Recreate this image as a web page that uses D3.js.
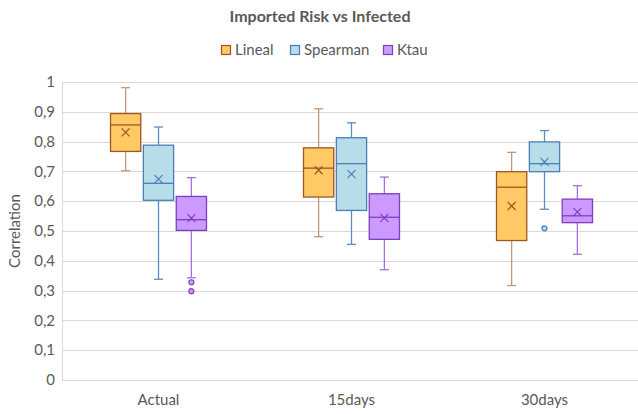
<!DOCTYPE html>
<html>
<head>
<meta charset="utf-8">
<script src="https://cdn.jsdelivr.net/npm/d3@7"></script>
<style>
  body { margin: 0; background: #fff; }
  svg { display: block; font-family: Lato, "Open Sans", sans-serif; }
</style>
</head>
<body>
<svg id="chart" width="638" height="414"></svg>
<script>
// categories and series
const categories = ["Actual", "15days", "30days"];
const series_names = ["Lineal", "Spearman", "Ktau"];
const y_ticks = [0, 0.1, 0.2, 0.3, 0.4, 0.5, 0.6, 0.7, 0.8, 0.9, 1];

// Lineal
const lineal_low = [0.702, 0.481, 0.317];
const lineal_q1 = [0.767, 0.614, 0.468];
const lineal_median = [0.856, 0.711, 0.647];
const lineal_q3 = [0.894, 0.779, 0.699];
const lineal_high = [0.981, 0.910, 0.764];
const lineal_mean = [0.831, 0.704, 0.584];
const lineal_outliers = [[], [], []];

// Spearman
const spearman_low = [0.338, 0.455, 0.573];
const spearman_q1 = [0.603, 0.569, 0.699];
const spearman_median = [0.660, 0.726, 0.726];
const spearman_q3 = [0.788, 0.813, 0.799];
const spearman_high = [0.849, 0.863, 0.837];
const spearman_mean = [0.674, 0.691, 0.732];
const spearman_outliers = [[], [], [0.509]];

// Ktau
const ktau_low = [0.343, 0.370, 0.422];
const ktau_q1 = [0.502, 0.472, 0.528];
const ktau_median = [0.538, 0.546, 0.551];
const ktau_q3 = [0.616, 0.625, 0.607];
const ktau_high = [0.679, 0.681, 0.652];
const ktau_mean = [0.543, 0.544, 0.564];
const ktau_outliers = [[0.328, 0.298], [], []];

const styles = {
    Lineal:   { fill: "#FFC966", stroke: "#A0561E", whisker: "#C39874" },
    Spearman: { fill: "#B6DDE8", stroke: "#4A7EBB", whisker: "#5B8CC4" },
    Ktau:     { fill: "#CC99FF", stroke: "#7D3FBF", whisker: "#A76FE0" }
};

const raw = {
    Lineal: [lineal_low, lineal_q1, lineal_median, lineal_q3, lineal_high, lineal_mean, lineal_outliers],
    Spearman: [spearman_low, spearman_q1, spearman_median, spearman_q3, spearman_high, spearman_mean, spearman_outliers],
    Ktau: [ktau_low, ktau_q1, ktau_median, ktau_q3, ktau_high, ktau_mean, ktau_outliers]
};

let boxes = [];
series_names.forEach(s => {
    let r = raw[s];
    categories.forEach((c, i) => {
        boxes.push({ series: s, cat: c, low: r[0][i], q1: r[1][i], median: r[2][i],
                     q3: r[3][i], high: r[4][i], mean: r[5][i], outliers: r[6][i] });
    });
});

const svg = d3.select("#chart");
const text_color = "#595959";

const x = d3.scaleBand().domain(categories).range([62, 641]);
const x_inner = d3.scaleBand().domain(series_names).range([-48, 48]).paddingInner(0.08);
const y = d3.scaleLinear().domain([0, 1]).range([380, 82]);

// gridlines
svg.append("g").selectAll("line").data(y_ticks.slice(1)).enter().append("line")
    .attr("x1", 62).attr("x2", 638)
    .attr("y1", d => Math.round(y(d)) + 0.5).attr("y2", d => Math.round(y(d)) + 0.5)
    .attr("stroke", "#d9d9d9").attr("stroke-width", 1);

// axes lines
svg.append("line").attr("x1", 62).attr("x2", 638).attr("y1", 380.5).attr("y2", 380.5)
    .attr("stroke", "#d9d9d9");
svg.append("line").attr("x1", 62.5).attr("x2", 62.5).attr("y1", y(1)).attr("y2", 380.5)
    .attr("stroke", "#d9d9d9");

// y tick labels
svg.append("g").selectAll("text").data(y_ticks).enter().append("text")
    .attr("x", 55).attr("y", d => y(d)).attr("dy", "0.35em")
    .attr("text-anchor", "end").attr("fill", text_color).attr("font-size", 15)
    .text(d => d3.format(".1~f")(d).replace(".", ","));

// x tick labels
svg.append("g").selectAll("text").data(categories).enter().append("text")
    .attr("x", d => x(d) + x.bandwidth() / 2).attr("y", 405)
    .attr("text-anchor", "middle").attr("fill", text_color).attr("font-size", 15)
    .text(d => d);

// axis title
svg.append("text")
    .attr("transform", "translate(20,231) rotate(-90)")
    .attr("text-anchor", "middle").attr("fill", text_color).attr("font-size", 15)
    .text("Correlation");

// title
svg.append("text").attr("x", 320).attr("y", 22)
    .attr("text-anchor", "middle").attr("fill", text_color)
    .attr("font-size", 16).attr("font-weight", "bold")
    .text("Imported Risk vs Infected");

// legend
const legend_x = [221, 290, 383];
const legend = svg.append("g").selectAll("g").data(series_names).enter().append("g")
    .attr("transform", (d, i) => "translate(" + legend_x[i] + ",45)");
legend.append("rect").attr("x", 0.5).attr("y", 0.5).attr("width", 9).attr("height", 9)
    .attr("fill", d => styles[d].fill).attr("stroke", d => styles[d].stroke).attr("stroke-width", 1.2);
legend.append("text").attr("x", 14).attr("y", 5).attr("dy", "0.35em")
    .attr("fill", text_color).attr("font-size", 15).text(d => d);

// boxes
const cap = 4.5;
const g = svg.append("g").selectAll("g").data(boxes).enter().append("g")
    .attr("transform", d => "translate(" + (x(d.cat) + x.bandwidth() / 2 + x_inner(d.series) + x_inner.bandwidth() / 2) + ",0)");

const half = x_inner.bandwidth() / 2;

// whiskers
g.append("line").attr("x1", 0).attr("x2", 0)
    .attr("y1", d => y(d.q3)).attr("y2", d => y(d.high))
    .attr("stroke", d => styles[d.series].whisker).attr("stroke-width", 1.3);
g.append("line").attr("x1", 0).attr("x2", 0)
    .attr("y1", d => y(d.q1)).attr("y2", d => y(d.low))
    .attr("stroke", d => styles[d.series].whisker).attr("stroke-width", 1.3);
g.append("line").attr("x1", -cap).attr("x2", cap)
    .attr("y1", d => y(d.high)).attr("y2", d => y(d.high))
    .attr("stroke", d => styles[d.series].whisker).attr("stroke-width", 1.3);
g.append("line").attr("x1", -cap).attr("x2", cap)
    .attr("y1", d => y(d.low)).attr("y2", d => y(d.low))
    .attr("stroke", d => styles[d.series].whisker).attr("stroke-width", 1.3);

// box
g.append("rect")
    .attr("x", -half).attr("width", x_inner.bandwidth())
    .attr("y", d => y(d.q3)).attr("height", d => y(d.q1) - y(d.q3))
    .attr("fill", d => styles[d.series].fill)
    .attr("stroke", d => styles[d.series].stroke).attr("stroke-width", 1.3);

// median
g.append("line").attr("x1", -half).attr("x2", half)
    .attr("y1", d => y(d.median)).attr("y2", d => y(d.median))
    .attr("stroke", d => styles[d.series].stroke).attr("stroke-width", 1.3);

// mean marker
const m = 4;
g.append("path")
    .attr("d", d => {
        let cy = y(d.mean);
        return "M" + (-m) + "," + (cy - m) + "L" + m + "," + (cy + m) +
               "M" + (-m) + "," + (cy + m) + "L" + m + "," + (cy - m);
    })
    .attr("stroke", d => styles[d.series].stroke).attr("stroke-width", 1.2).attr("fill", "none");

// outliers
g.selectAll("circle").data(d => d.outliers.map(v => ({ v: v, series: d.series }))).enter()
    .append("circle")
    .attr("cx", 0).attr("cy", d => y(d.v)).attr("r", 2.5)
    .attr("fill", d => styles[d.series].fill)
    .attr("stroke", d => styles[d.series].stroke).attr("stroke-width", 1.2);
</script>
</body>
</html>
